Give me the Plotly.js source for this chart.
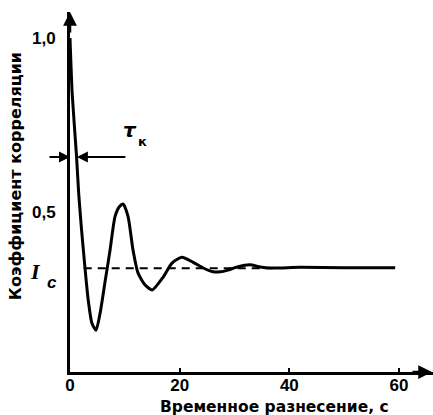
<!DOCTYPE html>
<html>
<head>
<meta charset="utf-8">
<script src="https://cdn.plot.ly/plotly-3.0.1.min.js"></script>
<style>html,body{margin:0;padding:0;background:#fff;}#chart{width:433px;height:415px;}</style>
</head>
<body>
<div id="chart"></div>
<script>
// Time lag, s
const lagSec = [0, 0.4, 1.2, 1.6, 2.1, 2.7, 3.3, 4.0, 4.75, 5.5, 6.4, 7.3, 8.2, 9.0, 9.7, 10.6, 11.5, 12.4, 13.7, 15.0, 17.0, 18.6, 20.4, 22.4, 24.3, 26.1, 27.4, 28.8, 30.5, 32.8, 34.7, 36.5, 42, 50, 59.3];
// Correlation coefficient
const corr = [1.0, 0.84, 0.658, 0.55, 0.45, 0.345, 0.25, 0.18, 0.16, 0.21, 0.30, 0.39, 0.486, 0.515, 0.523, 0.486, 0.39, 0.325, 0.29, 0.276, 0.313, 0.353, 0.37, 0.356, 0.339, 0.328, 0.328, 0.333, 0.342, 0.348, 0.342, 0.339, 0.341, 0.340, 0.340];
// Asymptotic level I_c (dashed line)
const icLag = [2.5, 37];
const icLevel = [0.338, 0.338];
// Correlation time tau_k marker level
const tauLevel = 0.658;
const tauLag = 1.25;
// Tick labels
const xTickVals = [0, 20, 40, 60];
const xTickText = ['<b>0</b>', '<b>20</b>', '<b>40</b>', '<b>60</b>'];
const yTickVals = [0.5, 1.0];
const yTickText = ['<b>0,5</b>', '<b>1,0</b>'];

const tickFont = {family: 'Liberation Sans, Arial, sans-serif', size: 17, color: '#000'};
const titleFont = {family: 'DejaVu Sans, sans-serif', size: 15.5, color: '#000'};

const traces = [
  {x: icLag, y: icLevel, mode: 'lines', line: {color: '#000', width: 2, dash: '8px,6px'}, hoverinfo: 'skip'},
  {x: lagSec, y: corr, mode: 'lines', line: {color: '#000', width: 3, shape: 'spline', smoothing: 0.6}}
];

const arrowBase = {text: '', showarrow: true, arrowhead: 2, arrowsize: 1.1, arrowwidth: 2.5, arrowcolor: '#000', standoff: 0, axref: 'pixel', ayref: 'pixel'};

const layout = {
  width: 433, height: 415,
  margin: {l: 70, r: 0, t: 12, b: 43},
  paper_bgcolor: '#fff', plot_bgcolor: '#fff',
  showlegend: false,
  xaxis: {range: [0, 66.2], tickvals: xTickVals, ticktext: xTickText, showgrid: false, zeroline: false,
          showline: true, linecolor: '#000', linewidth: 3, ticks: 'inside', ticklen: 4, tickwidth: 2, tickcolor: '#000',
          tickfont: tickFont, ticklabelstandoff: -4},
  yaxis: {range: [0.04, 1.075], tickvals: yTickVals, ticktext: yTickText, showgrid: false, zeroline: false,
          showline: true, linecolor: '#000', linewidth: 3, ticks: '', tickfont: tickFont, ticklabelstandoff: 8},
  annotations: [
    Object.assign({}, arrowBase, {xref: 'x', yref: 'paper', x: 0, y: 1, ax: 0, ay: 22}),
    Object.assign({}, arrowBase, {xref: 'paper', yref: 'paper', x: 1, y: 0, ax: -22, ay: 0}),
    Object.assign({}, arrowBase, {xref: 'x', yref: 'y', x: 0, y: tauLevel, ax: -22, ay: 0, arrowwidth: 2}),
    Object.assign({}, arrowBase, {xref: 'x', yref: 'y', x: tauLag, y: tauLevel, ax: 50, ay: 0, arrowwidth: 2}),
    {xref: 'x', yref: 'y', x: 10.9, y: 0.735, text: '<b><i>τ</i></b>', showarrow: false,
     font: {family: 'DejaVu Sans, sans-serif', size: 20, color: '#000'}},
    {xref: 'x', yref: 'y', x: 13.3, y: 0.704, text: '<b>к</b>', showarrow: false,
     font: {family: 'DejaVu Sans, sans-serif', size: 13, color: '#000'}},
    {xref: 'x', yref: 'y', x: 0, xshift: -35, y: 0.33, text: '<b><i>I</i></b>', showarrow: false,
     font: {family: 'Liberation Serif, serif', size: 22, color: '#000'}},
    {xref: 'x', yref: 'y', x: 0, xshift: -18, y: 0.296, text: '<b><i>c</i></b>', showarrow: false,
     font: {family: 'Liberation Sans, sans-serif', size: 17, color: '#000'}},
    {xref: 'paper', yref: 'paper', x: 0, xshift: -55, y: 0.544, textangle: -90, text: '<b>Коэффициент корреляции</b>',
     showarrow: false, xanchor: 'center', yanchor: 'middle', font: {family: 'DejaVu Sans, sans-serif', size: 16, color: '#000'}},
    {xref: 'paper', yref: 'paper', x: 0.562, y: 0, yshift: -35, text: '<b>Временное разнесение, с</b>',
     showarrow: false, xanchor: 'center', yanchor: 'middle', font: titleFont}
  ]
};

Plotly.newPlot('chart', traces, layout, {displayModeBar: false, staticPlot: true});
</script>
</body>
</html>
